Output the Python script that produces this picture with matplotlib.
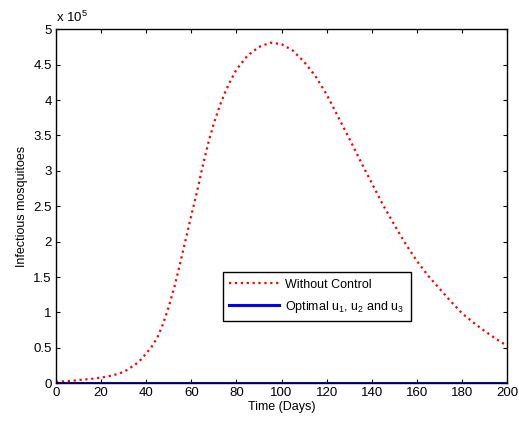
import matplotlib
matplotlib.use("Agg")
import matplotlib.pyplot as plt
from matplotlib.ticker import FormatStrFormatter

plt.rcParams['font.family'] = ['Liberation Sans', 'DejaVu Sans']
plt.rcParams['mathtext.fontset'] = 'custom'
plt.rcParams['mathtext.rm'] = 'Liberation Sans'
plt.rcParams['mathtext.it'] = 'Liberation Sans'

# Time in days
days = [0, 5, 10, 15, 20, 25, 30, 32.5, 35, 37.5, 40, 42.5, 45, 47.5, 50, 52.5, 55, 57.5,
        60, 62.5, 65, 67.5, 70, 72.5, 75, 77.5, 80, 85, 90, 95,
        100, 105, 110, 115, 120, 125, 130, 135, 140, 145, 150, 155, 160, 165, 170, 175,
        180, 185, 190, 195, 200]
# Infectious mosquitoes without control (units of 1e5)
without_control = [0.02, 0.03, 0.045, 0.06, 0.08, 0.11, 0.16, 0.21, 0.26, 0.33, 0.42, 0.52,
                   0.65, 0.84, 1.08, 1.36, 1.69, 2.03, 2.37, 2.70, 3.06, 3.39, 3.67, 3.91,
                   4.11, 4.28, 4.43, 4.63, 4.75, 4.81, 4.79, 4.70, 4.54, 4.34,
                   4.08, 3.77, 3.46, 3.14, 2.83, 2.52, 2.24, 1.97, 1.73, 1.52, 1.34, 1.16,
                   0.99, 0.86, 0.74, 0.63, 0.53]
# With optimal controls (units of 1e5)
optimal_days = [0, 50, 100, 150, 200]
optimal = [0.0, 0.0, 0.0, 0.0, 0.0]

xticks = [0, 20, 40, 60, 80, 100, 120, 140, 160, 180, 200]
yticks = [0, 0.5, 1, 1.5, 2, 2.5, 3, 3.5, 4, 4.5, 5]

fig = plt.figure(figsize=(5.19, 4.24), dpi=100)
ax = fig.add_axes([0.1079, 0.096, 0.869, 0.835])

ax.plot(days, without_control, color='red', linestyle=':', linewidth=1.6,
        label='Without Control')
ax.plot(optimal_days, optimal, color='blue', linestyle='-', linewidth=2.2,
        label='Optimal u$_1$, u$_2$ and u$_3$')

ax.set_xlim(0, 200)
ax.set_ylim(0, 5)
ax.set_xticks(xticks)
ax.set_yticks(yticks)
ax.yaxis.set_major_formatter(FormatStrFormatter('%g'))
ax.tick_params(direction='in', length=3, width=0.8, top=True, right=True,
               labelsize=9.5, pad=3)
for sp in ax.spines.values():
    sp.set_linewidth(1.0)

ax.set_xlabel('Time (Days)', fontsize=9, labelpad=1)
ax.set_ylabel('Infectious mosquitoes', fontsize=9, labelpad=4)
ax.text(0.0, 1.012, 'x 10$^5$', transform=ax.transAxes, fontsize=9.5,
        ha='left', va='bottom')

leg = ax.legend(loc='lower left', bbox_to_anchor=(0.37, 0.176), fontsize=9,
                frameon=True, fancybox=False, edgecolor='black', framealpha=1,
                borderpad=0.5, borderaxespad=0, handlelength=4.0, handletextpad=0.5,
                labelspacing=0.65)
leg.get_frame().set_linewidth(1.0)

fig.savefig('out.png', dpi=100)
